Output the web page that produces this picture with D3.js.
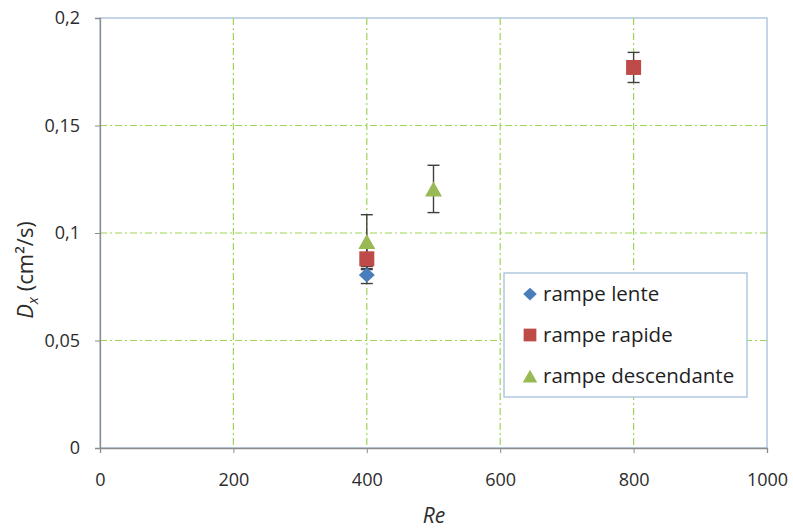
<!DOCTYPE html>
<html><head><meta charset="utf-8">
<script src="https://cdn.jsdelivr.net/npm/d3@7"></script>
<style>body{margin:0;background:#fff}svg{display:block}text{font-family:"Open Sans",sans-serif}</style>
</head><body><svg id="c" width="793" height="529"></svg>
<script>
const seriesNames = ["rampe lente", "rampe rapide", "rampe descendante"];
const seriesColors = ["#4a7ebb", "#be4b48", "#98b954"];
const seriesSymbols = ["diamond", "square", "triangle"];
const lenteRe = [400], lenteDx = [0.0805], lenteErr = [0.004];
const rapideRe = [400, 800], rapideDx = [0.088, 0.177], rapideErr = [0.005, 0.007];
const descRe = [400, 500], descDx = [0.096, 0.1205], descErr = [0.0125, 0.011];
const xTicks = [0, 200, 400, 600, 800, 1000];
const yTicks = [0, 0.05, 0.1, 0.15, 0.2];

const svg = d3.select("#c");
const x = d3.scaleLinear().domain([0, 1000]).range([100, 767]);
const y = d3.scaleLinear().domain([0, 0.2]).range([448, 18]);
const fmt = d => String(d).replace(".", ",");

// plot border
svg.append("rect").attr("x", 100).attr("y", 18).attr("width", 667).attr("height", 430)
  .attr("fill", "none").attr("stroke", "#a7bfdc").attr("stroke-width", 1.3);
// grid
const grid = svg.append("g").attr("stroke", "#9dd655").attr("stroke-width", 1.2).attr("stroke-dasharray", "7,3,2,3");
grid.selectAll("line.v").data(xTicks.filter(t => t > 0 && t < 1000)).join("line")
  .attr("x1", d => x(d)).attr("x2", d => x(d)).attr("y1", 18).attr("y2", 448);
grid.selectAll("line.h").data(yTicks.filter(t => t > 0 && t < 0.2)).join("line")
  .attr("y1", d => y(d)).attr("y2", d => y(d)).attr("x1", 100).attr("x2", 767);

// axes
const xAxis = svg.append("g").attr("transform", "translate(0,448)")
  .call(d3.axisBottom(x).tickValues(xTicks).tickSize(5).tickFormat(d3.format("d")));
const yAxis = svg.append("g").attr("transform", "translate(100,0)")
  .call(d3.axisLeft(y).tickValues(yTicks).tickSize(5).tickFormat(fmt));
[xAxis, yAxis].forEach(a => {
  a.attr("font-family", null).attr("font-size", null);
  a.select(".domain").attr("stroke", "#8c8c8c").attr("stroke-width", 1.3);
  a.selectAll(".tick line").attr("stroke", "#8c8c8c");
  a.selectAll("text").attr("fill", "#2b2b2b").style("font-size", "18px");
});
xAxis.selectAll("text").attr("y", 25);
yAxis.selectAll("text").attr("x", -20);

// titles
svg.append("text").attr("x", 434).attr("y", 523).attr("text-anchor", "middle")
  .style("font-size", "21px").style("font-style", "italic").attr("fill", "#2b2b2b").text("Re");
const yt = svg.append("text").attr("transform", "translate(33,270) rotate(-90)")
  .attr("text-anchor", "middle").style("font-size", "22px").attr("fill", "#2b2b2b");
yt.append("tspan").style("font-style", "italic").text("D");
yt.append("tspan").style("font-style", "italic").style("font-size", "15px").attr("dy", 5).text("x");
yt.append("tspan").attr("dy", -5).text(" (cm²/s)");

// data
const series = [
  {re: lenteRe, dx: lenteDx, err: lenteErr},
  {re: rapideRe, dx: rapideDx, err: rapideErr},
  {re: descRe, dx: descDx, err: descErr}
];
function markerPath(kind, k) {
  const p = d3.path();
  if (kind === "diamond") { const w = 8 * k, h = 7.5 * k; p.moveTo(0, -h); p.lineTo(w, 0); p.lineTo(0, h); p.lineTo(-w, 0); p.closePath(); }
  else if (kind === "square") { const s = 7.5 * k; p.rect(-s, -s, 2 * s, 2 * s); }
  else { const w = 8.5 * k, h = 7.5 * k; p.moveTo(0, -h); p.lineTo(w, h); p.lineTo(-w, h); p.closePath(); }
  return p.toString();
}

// error bars
series.forEach((s, i) => {
  const g = svg.append("g").attr("stroke", "#404040").attr("stroke-width", 1.4);
  s.re.forEach((r, j) => {
    const lo = y(s.dx[j] - s.err[j]), hi = y(s.dx[j] + s.err[j]), cx = x(r);
    g.append("line").attr("x1", cx).attr("x2", cx).attr("y1", lo).attr("y2", hi);
    g.append("line").attr("x1", cx - 6).attr("x2", cx + 6).attr("y1", lo).attr("y2", lo);
    g.append("line").attr("x1", cx - 6).attr("x2", cx + 6).attr("y1", hi).attr("y2", hi);
  });
});
// markers
[0, 1, 2].forEach(i => {
  const s = series[i];
  s.re.forEach((r, j) => {
    svg.append("path").attr("d", markerPath(seriesSymbols[i], 1))
      .attr("transform", `translate(${x(r)},${y(s.dx[j])})`)
      .attr("fill", seriesColors[i]);
  });
});

// legend
const lg = svg.append("g");
lg.append("rect").attr("x", 504).attr("y", 273).attr("width", 243).attr("height", 124)
  .attr("fill", "#fff").attr("stroke", "#a7bfdc").attr("stroke-width", 1.3);
seriesNames.forEach((n, i) => {
  const ly = 294 + i * 41;
  lg.append("path").attr("d", markerPath(seriesSymbols[i], 0.85))
    .attr("transform", `translate(530,${ly})`).attr("fill", seriesColors[i]);
  lg.append("text").attr("x", 543).attr("y", ly + 7).style("font-size", "20.5px").attr("fill", "#1f1f1f").text(n);
});
</script></body></html>
